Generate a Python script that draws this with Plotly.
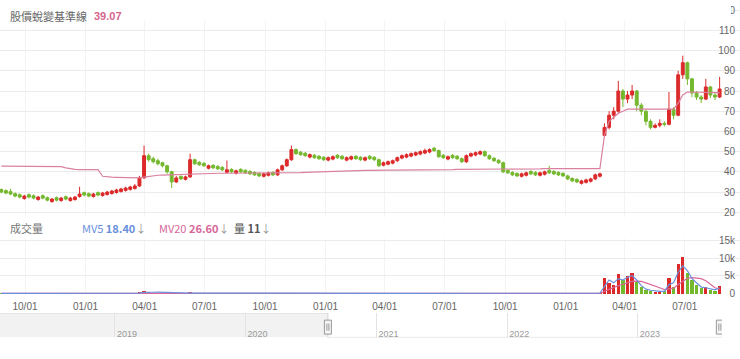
import plotly.graph_objects as go
import pandas as pd

# ---------------- data (weekly bars) ----------------
first_week = "2020-08-26"

opens = [31.2, 30.7, 30.2, 29.2, 28.7, 26.8, 28.7, 28.2, 26.3, 28.2, 27.2, 25.3, 27.2, 25.8, 27.7, 25.8, 26.3, 27.8, 29.7, 29.2,
         27.8, 29.7, 28.3, 28.8, 29.3, 29.8, 30.3, 30.8, 31.3, 31.8, 33, 37, 48, 46.5, 45.5, 44.5, 43, 40, 35, 37.7,
         36.3, 37.5, 46, 44.7, 44.2, 41.8, 43.2, 42.7, 42.2, 39.8, 41.2, 39.3, 41.2, 40.7, 40.2, 39.7, 39.2, 37.8, 38.3, 39.7,
         38.5, 41, 43, 46, 51, 49.7, 49.2, 47.3, 48.2, 47.7, 47.2, 45.8, 46.3, 48.2, 47.7, 45.8, 46.3, 47.7, 47.2, 45.8,
         47.7, 47.2, 46, 43.3, 43.8, 44.3, 45.5, 46.8, 47.3, 47.8, 48.3, 48.8, 49.3, 49.8, 51.7, 50.5, 48.2, 46.3, 48.2, 47.7,
         46.5, 45, 47.8, 48.3, 48.8, 50, 48, 46.7, 45.7, 44.5, 40.7, 39.7, 39.2, 37.8, 38.3, 40.2, 39.7, 38.3, 38.8, 40.7,
         40.2, 39.7, 39.2, 38, 36.7, 36.2, 34.3, 34.8, 35.3, 36.5, 37.8, 58, 62, 68, 70, 80, 76, 78, 80, 73,
         70, 65, 62, 63, 64, 63.5, 71, 68, 88, 94, 86, 79, 77, 76, 82, 78, 77]
closes = [30, 29.5, 29, 28, 27.5, 28, 27.5, 27, 27.5, 27, 26, 26.5, 26, 27, 26.5, 27, 27.5, 29, 28.5, 28,
          29, 28.5, 29.5, 30, 30.5, 31, 31.5, 32, 32.5, 33, 37, 48, 46, 45, 44, 43, 40, 35, 37, 36.5,
          37.5, 46, 44, 43.5, 43, 43, 42, 41.5, 41, 41, 40, 40.5, 40, 39.5, 39, 38.5, 38, 39, 39.5, 38.5,
          41, 43, 46, 51, 49, 48.5, 48, 48.5, 47, 46.5, 46, 47, 47.5, 47, 46.5, 47, 47.5, 46.5, 46, 47,
          46.5, 46, 43, 44.5, 45, 45.5, 47, 48, 48.5, 49, 49.5, 50, 50.5, 51, 50.5, 47.5, 47, 47.5, 47, 46.5,
          45, 48, 49, 49.5, 50, 48, 46.5, 45.5, 44.5, 40, 39.5, 38.5, 38, 39, 39.5, 39, 38.5, 39.5, 40, 39.5,
          39, 38.5, 38, 36.5, 35.5, 35, 35.5, 36, 36.5, 38.5, 39, 62, 68, 70, 80, 76, 78, 80, 73, 70,
          65, 62, 63, 64, 63.5, 71, 68, 88, 94, 86, 79, 77, 76, 82, 78, 77, 81]
highs = [31.8, 31.3, 31.6, 29.8, 29.3, 28.6, 29.3, 28.8, 28.1, 28.8, 27.8, 27.1, 27.8, 27.6, 28.3, 27.6, 28.1, 32.6, 30.3, 29.8,
         29.6, 30.3, 30.1, 30.6, 31.1, 31.6, 32.1, 32.6, 33.1, 34, 38, 53, 49, 47.5, 46.5, 45, 43.5, 40.5, 38, 38.3,
         38.1, 49, 46.5, 45.3, 44.8, 43.6, 43.8, 43.3, 42.8, 45.6, 41.8, 41.1, 41.8, 41.3, 40.8, 40.3, 39.8, 39.6, 40.1, 40.3,
         41.6, 43.6, 46.6, 53, 51.6, 50.3, 49.8, 49.1, 48.8, 48.3, 47.8, 47.6, 48.1, 48.8, 48.3, 47.6, 48.1, 48.3, 47.8, 47.6,
         48.3, 47.8, 46.6, 45.1, 45.6, 46.1, 47.6, 48.6, 49.1, 49.6, 50.1, 50.6, 51.5, 51.6, 52.3, 51, 48.8, 48.1, 48.8, 48.3,
         47.1, 48.6, 49.6, 50.1, 50.6, 50.6, 48.6, 47.3, 46.3, 45.1, 41.3, 40.3, 39.8, 39.6, 40.1, 40.8, 40.3, 40.1, 40.6, 43,
         40.8, 40.3, 39.8, 38.6, 37.3, 36.8, 36.1, 36.6, 37.1, 39.1, 39.6, 64, 70, 72, 85, 81, 80, 83, 80.5, 74,
         70.5, 66, 64, 66, 65, 79.5, 72, 90, 97.5, 94.5, 86.5, 80, 78, 86, 82.5, 79, 87]
lows = [29.4, 28.9, 28.4, 27.4, 26.9, 26.2, 26.9, 26.4, 25.7, 26.4, 25.4, 24.7, 25.4, 25.2, 25.9, 25.2, 25.7, 27.2, 27.9, 27.4,
        27.2, 27.9, 27.7, 28.2, 28.7, 29.2, 29.7, 30.2, 30.7, 31.2, 32.5, 36.5, 45, 44.2, 43.2, 42.2, 39, 32, 34.5, 35.9,
        35.7, 37, 43.4, 42.9, 42.4, 41.2, 41.4, 40.9, 40.4, 39.2, 39.4, 38.7, 39.4, 38.9, 38.4, 37.9, 37.4, 37.2, 37.7, 37.9,
        37.9, 40.4, 42.4, 45.4, 48.4, 47.9, 47.4, 46.7, 46.4, 45.9, 45.4, 45.2, 45.7, 46.4, 45.9, 45.2, 45.7, 45.9, 45.4, 45.2,
        45.9, 45.4, 42.4, 42.7, 43.2, 43.7, 44.9, 46.2, 46.7, 47.2, 47.7, 48.2, 48.7, 49.2, 49.9, 46.9, 46.4, 45.7, 46.4, 45.9,
        44.4, 44.4, 47.2, 47.7, 48.2, 47.4, 45.9, 44.9, 43.9, 39.4, 38.9, 37.9, 37.4, 37.2, 37.7, 38.4, 37.9, 37.7, 38.2, 38.9,
        38.4, 37.9, 37.4, 35.9, 34.9, 34.4, 33.7, 34.2, 34.7, 35.9, 37.2, 57.5, 61, 66, 69, 72, 74, 76, 70, 68,
        63, 61, 61.5, 62, 62.5, 63, 66, 67.5, 86, 83, 77, 75.5, 74, 75.5, 76.5, 75.5, 76.5]
baseline = [42.8, 42.8, 42.8, 42.8, 42.8, 42.8, 42.8, 42.8, 42.8, 42.8, 42.8, 42.8, 42.8, 42.6, 42.0, 41.5, 41.2, 41.1, 41.1, 41.1,
            41.1, 41.1, 37.8, 37.5, 37.4, 37.3, 37.2, 37.1, 37.0, 37.0, 37.0, 37.4, 37.8, 38.2, 38.3, 38.4, 38.5, 38.5, 38.6, 38.7,
            38.8, 38.9, 39.0, 39.1, 39.2, 39.2, 39.2, 39.3, 39.3, 39.3, 39.3, 39.4, 39.4, 39.4, 39.4, 39.5, 39.5, 39.5, 39.5, 39.5,
            39.5, 39.5, 39.5, 39.5, 39.5, 39.6, 39.7, 39.8, 39.9, 40.0, 40.1, 40.2, 40.3, 40.4, 40.5, 40.5, 40.6, 40.6, 40.7, 40.7,
            40.7, 40.8, 40.8, 40.8, 40.8, 40.8, 40.8, 40.9, 40.9, 40.9, 40.9, 41.0, 41.0, 41.0, 41.0, 41.1, 41.1, 41.1, 41.1, 41.2,
            41.2, 41.2, 41.2, 41.3, 41.3, 41.3, 41.3, 41.4, 41.4, 41.4, 41.4, 41.4, 41.5, 41.5, 41.5, 41.5, 41.5, 41.5, 41.6, 41.6,
            41.6, 41.6, 41.6, 41.6, 41.6, 41.6, 41.6, 41.6, 41.6, 41.6, 41.6, 58.0, 65.0, 67.0, 69.0, 70.0, 71.0, 71.0, 71.0, 71.0,
            71.0, 71.0, 71.0, 71.0, 71.0, 71.0, 71.0, 74.0, 78.0, 79.5, 79.5, 79.5, 79.3, 79.3, 79.2, 79.2, 79.2]
volume = [20, 15, 30, 18, 12, 16, 14, 20, 25, 15, 12, 18, 10, 14, 20, 16, 12, 40, 22, 15,
          18, 14, 20, 25, 22, 30, 28, 35, 40, 60, 300, 900, 400, 150, 80, 60, 90, 120, 50, 30,
          40, 250, 90, 50, 40, 30, 25, 20, 20, 35, 20, 18, 15, 14, 16, 12, 15, 14, 12, 15,
          30, 45, 80, 200, 90, 50, 35, 30, 25, 20, 18, 22, 20, 15, 14, 18, 20, 16, 14, 15,
          12, 15, 40, 25, 18, 15, 20, 25, 22, 20, 18, 22, 25, 24, 20, 30, 20, 16, 15, 14,
          20, 35, 25, 20, 22, 18, 15, 14, 15, 45, 25, 15, 12, 14, 16, 12, 10, 15, 14, 30,
          14, 12, 15, 25, 20, 14, 12, 11, 15, 60, 110, 4500, 3000, 2500, 5500, 4000, 5000, 6000, 3500, 2000,
          1200, 800, 600, 500, 700, 4500, 2000, 8500, 10500, 6000, 4000, 2500, 1500, 2000, 1200, 900, 2300]
mv5 = [20, 19, 21, 19, 18, 17, 16, 16, 18, 18, 17, 16, 15, 14, 15, 16, 15, 20, 22, 21,
       21, 20, 18, 19, 20, 23, 25, 28, 32, 40, 90, 280, 380, 330, 350, 300, 160, 100, 80, 70,
       65, 90, 95, 90, 85, 60, 45, 35, 28, 26, 25, 22, 20, 18, 16, 15, 15, 14, 14, 14,
       18, 25, 40, 75, 90, 100, 90, 55, 40, 30, 24, 22, 20, 19, 18, 17, 18, 17, 16, 16,
       15, 15, 20, 22, 22, 21, 20, 21, 20, 20, 19, 20, 21, 22, 22, 24, 23, 21, 19, 17,
       17, 20, 22, 23, 24, 22, 19, 17, 16, 22, 24, 23, 20, 18, 16, 14, 13, 13, 13, 16,
       17, 16, 15, 17, 18, 18, 16, 14, 13, 25, 50, 2000, 3800, 3000, 4200, 3800, 4600, 5000, 3800, 2200,
       1200, 900, 700, 600, 600, 2500, 3000, 6000, 7800, 6500, 4200, 3000, 1800, 1600, 1400, 1000, 1600]
mv20 = [22, 22, 21, 21, 20, 20, 19, 19, 18, 18, 18, 17, 17, 17, 16, 16, 16, 17, 18, 18,
        18, 18, 19, 19, 19, 20, 21, 22, 24, 27, 45, 110, 150, 170, 180, 185, 180, 160, 130, 110,
        95, 100, 100, 95, 85, 75, 65, 55, 45, 38, 32, 28, 25, 22, 20, 19, 18, 17, 16, 16,
        17, 20, 26, 38, 46, 52, 55, 55, 50, 44, 36, 30, 26, 24, 22, 20, 19, 18, 18, 17,
        17, 17, 18, 19, 19, 19, 19, 20, 20, 20, 20, 20, 20, 21, 21, 21, 22, 22, 21, 20,
        20, 20, 21, 21, 21, 21, 20, 20, 19, 20, 21, 21, 21, 20, 19, 18, 17, 16, 16, 16,
        16, 16, 16, 16, 16, 16, 16, 16, 15, 18, 24, 600, 1200, 1600, 2200, 2600, 3000, 3400, 3500, 3400,
        3000, 2600, 2200, 1600, 1100, 1200, 1500, 2500, 3500, 4300, 4500, 4400, 4200, 3600, 2600, 1600, 1200]

price_ticks = [20, 30, 40, 50, 60, 70, 80, 90, 100, 110, 120]
vol_ticks = [0, 5000, 10000, 15000]
vol_tick_text = ["0", "5k", "10k", "15k"]
nav_years = ["2019-01-01", "2020-01-01", "2021-01-01", "2022-01-01", "2023-01-01"]

title_text = "股價蛻變基準線"
title_value = "39.07"
vol_title = "成交量"
mv5_text = "MV5 <b>18.40</b>"
mv20_text = "MV20 <b>26.60</b>"
vol_text = "量 <b>11</b>"

# ---------------- figure ----------------
dates = pd.date_range(first_week, periods=len(closes), freq="7D")
RED = "#dc2a2a"
GREEN = "#74b82e"
PINK = "#d9819f"
BLUE = "#6b90dc"
MV20C = "#d8679a"
GRID = "#ebebeb"
TICK = "#666666"

W, H = 740, 359
def py(p):  # pixel (from top) to paper y
    return 1 - p / H

xr = ["2020-08-24", "2023-09-23"]
nav_range = ["2018-02-14", "2023-08-24"]
mask_end = "2020-08-18"
sel_end = "2023-08-18"

fig = go.Figure()
fig.add_trace(go.Scatter(x=dates, y=baseline, mode="lines", line=dict(color=PINK, width=1.2),
                         hoverinfo="skip", xaxis="x", yaxis="y"))
fig.add_trace(go.Candlestick(x=dates, open=opens, high=highs, low=lows, close=closes,
                             increasing=dict(line=dict(color=RED, width=1), fillcolor=RED),
                             decreasing=dict(line=dict(color=GREEN, width=1), fillcolor=GREEN),
                             whiskerwidth=0, xaxis="x", yaxis="y"))
vcolors = [RED if c >= o else GREEN for o, c in zip(opens, closes)]
fig.add_trace(go.Bar(x=dates, y=volume, marker=dict(color=vcolors, line=dict(width=0)),
                     width=5 * 86400000, xaxis="x2", yaxis="y2", hoverinfo="skip"))
fig.add_trace(go.Scatter(x=dates, y=mv20, mode="lines", line=dict(color=MV20C, width=1.2),
                         xaxis="x2", yaxis="y2", hoverinfo="skip"))
fig.add_trace(go.Scatter(x=dates, y=mv5, mode="lines", line=dict(color=BLUE, width=1.2),
                         xaxis="x2", yaxis="y2", hoverinfo="skip"))
fig.add_trace(go.Scatter(x=nav_range, y=[0.5, 0.5], mode="lines", line=dict(width=0),
                         xaxis="x3", yaxis="y3", hoverinfo="skip"))

fig.update_layout(
    width=W, height=H, margin=dict(l=0, r=0, t=0, b=0),
    paper_bgcolor="white", plot_bgcolor="white", showlegend=False,
    font=dict(family="Liberation Sans, Arial, sans-serif", size=10, color=TICK),
    boxgap=0.1,
    xaxis=dict(domain=[0, 1], anchor="y", range=xr, type="date", showticklabels=False,
               showgrid=True, gridcolor="#f3f3f3", dtick="M3", tick0="2020-01-01",
               rangeslider=dict(visible=False), showline=False, zeroline=False, ticks=""),
    yaxis=dict(domain=[py(218), 1], anchor="x", side="right", range=[17.58, 123.05],
               tickvals=price_ticks, showgrid=True, gridcolor=GRID, zeroline=False,
               ticklabelposition="inside", ticklabeloverflow="allow", ticklabelstandoff=2,
               tickfont=dict(size=10, color=TICK)),
    xaxis2=dict(domain=[0, 1], anchor="y2", matches="x", range=xr, type="date",
                showgrid=True, gridcolor="#f3f3f3", dtick="M3", tick0="2020-01-01",
                tickformat="%m/%d", tickfont=dict(size=10, color=TICK), showline=False,
                zeroline=False, ticks="", ticklabelstandoff=5),
    yaxis2=dict(domain=[py(297), py(240)], anchor="x2", side="right", range=[-280, 15550],
                tickvals=vol_ticks, ticktext=vol_tick_text, showgrid=True, gridcolor=GRID,
                ticklabelposition="inside", ticklabeloverflow="allow", ticklabelstandoff=2,
                zeroline=False, tickfont=dict(size=10, color=TICK)),
    xaxis3=dict(domain=[0, 722 / W], anchor="y3", range=nav_range, type="date",
                tickvals=nav_years, tickformat="%Y", showgrid=True, gridcolor="#e3e3e3",
                ticklabelposition="inside", ticklabelshift=12, ticklabelstandoff=-4,
                ticklabeloverflow="allow",
                tickfont=dict(size=9, color="#999999"), showline=False, zeroline=False, ticks=""),
    yaxis3=dict(domain=[py(341), py(316)], anchor="x3", range=[0, 1], visible=False),
    bargap=0,
)

shapes = [
    # navigator unselected mask
    dict(type="rect", xref="x3", yref="y3", x0=nav_range[0], x1=mask_end, y0=0, y1=1,
         fillcolor="#f2f2f2", line=dict(width=0), layer="below"),
    dict(type="line", xref="x3", yref="y3", x0=nav_range[0], x1=mask_end, y0=1, y1=1,
         line=dict(color="#d6d6d6", width=1)),
    dict(type="line", xref="x3", yref="y3", x0=mask_end, x1=nav_range[1], y0=0, y1=0,
         line=dict(color="#d6d6d6", width=1)),
    dict(type="line", xref="x3", yref="y3", x0=mask_end, x1=mask_end, y0=0, y1=1,
         line=dict(color="#d6d6d6", width=1)),
    # white cover behind the header (leaves the last digit of the top tick visible)
    dict(type="rect", xref="paper", yref="paper", x0=0, x1=731 / W, y0=py(17), y1=1,
         fillcolor="white", line=dict(width=0), layer="above"),
]
for hx in [mask_end, sel_end]:
    shapes.append(dict(type="rect", xref="x3", yref="y3", xsizemode="pixel", ysizemode="pixel",
                       xanchor=hx, yanchor=0.42, x0=-3.5, x1=3.5, y0=-7, y1=7,
                       fillcolor="#f4f4f4", line=dict(color="#999999", width=1), layer="above"))
    shapes.append(dict(type="line", xref="x3", yref="y3", xsizemode="pixel", ysizemode="pixel",
                       xanchor=hx, yanchor=0.42, x0=-1, x1=-1, y0=-3.5, y1=3.5,
                       line=dict(color="#999999", width=1), layer="above"))
    shapes.append(dict(type="line", xref="x3", yref="y3", xsizemode="pixel", ysizemode="pixel",
                       xanchor=hx, yanchor=0.42, x0=1, x1=1, y0=-3.5, y1=3.5,
                       line=dict(color="#999999", width=1), layer="above"))
fig.update_layout(shapes=shapes)

CJK = "Noto Sans CJK TC, Liberation Sans, sans-serif"
arrow = "<span style='color:#999999'>↓</span>"
ann = [
    dict(text=title_text, x=8 / W, y=py(12), font=dict(size=11, color="#666666", family=CJK)),
    dict(text="<b>" + title_value + "</b>", x=92 / W, y=py(12),
         font=dict(size=11, color="#d6648e", family="Liberation Sans, Arial")),
    dict(text=vol_title, x=8 / W, y=py(229), font=dict(size=11, color="#777777", family=CJK)),
    dict(text=mv5_text + arrow, x=80 / W, y=py(229), font=dict(size=11, color=BLUE, family=CJK)),
    dict(text=mv20_text + arrow, x=157 / W, y=py(229), font=dict(size=11, color=MV20C, family=CJK)),
    dict(text=vol_text + arrow, x=232 / W, y=py(229), font=dict(size=11, color="#555555", family=CJK)),
]
for a in ann:
    a.update(xref="paper", yref="paper", xanchor="left", yanchor="middle", showarrow=False)
fig.update_layout(annotations=ann)

fig.write_html("out.html", config={"displayModeBar": False},
               post_script="document.body.style.margin='0';")
